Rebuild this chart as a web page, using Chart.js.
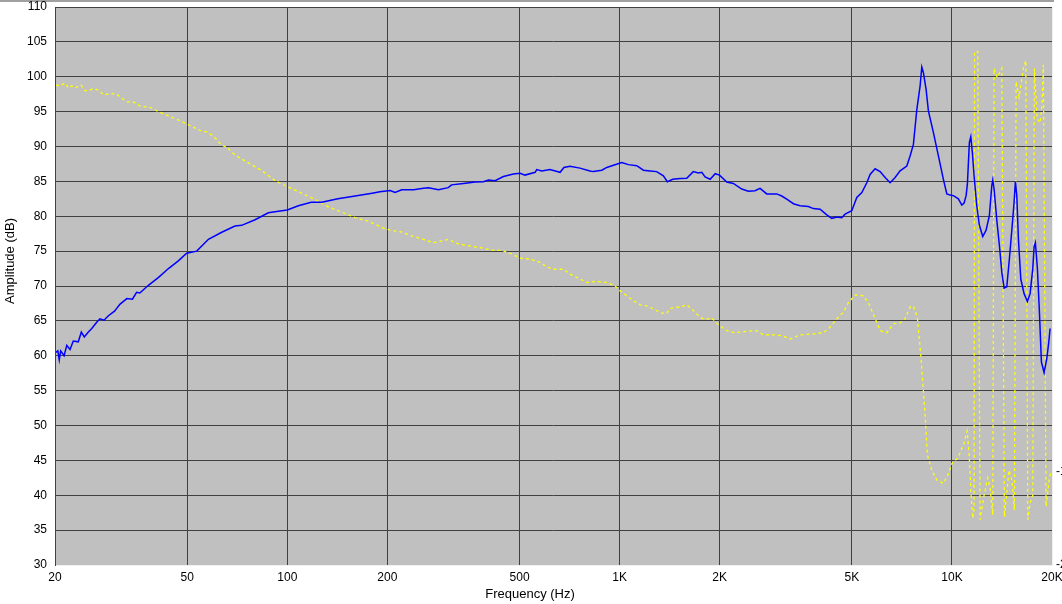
<!DOCTYPE html>
<html>
<head>
<meta charset="utf-8">
<script src="https://cdn.jsdelivr.net/npm/chart.js@4.4.1/dist/chart.umd.min.js"></script>
<style>
  body { margin: 0; background: #fff; }
  canvas { display: block; }
</style>
</head>
<body>
<canvas id="frChart" width="1062" height="604"></canvas>
<script>
const xTickValues = [20, 50, 100, 200, 500, 1000, 2000, 5000, 10000, 20000];
const xTickLabels = ['20', '50', '100', '200', '500', '1K', '2K', '5K', '10K', '20K'];

// blue trace (frequency in Hz, amplitude in dB)
const blueFreq = [20, 20.4, 20.6, 20.8, 21.3, 21.7, 22.2, 22.7, 23.5, 24.0, 24.5, 25.2, 25.8, 26.7, 27.3, 28.1, 28.9, 30.2, 31.4, 32.9,
  34.2, 35.2, 36.0, 38.2, 40.9, 43.9, 47.0, 49.8, 53.4, 57.9, 63.5, 69.6, 72.9, 80, 87.7, 94, 100, 108, 118, 127,
  142, 160, 180, 190, 204, 211, 221, 240, 257, 266, 285, 305, 312, 339, 367, 389, 403, 422, 447, 479,
  502, 519, 557, 563, 583, 617, 662, 680, 709, 760, 814, 833, 884, 915, 958, 1015, 1062, 1126, 1179, 1235,
  1293, 1354, 1392, 1445, 1520, 1592, 1666, 1726, 1767, 1808, 1872, 1940, 1998, 2101, 2199, 2331, 2440, 2555, 2646, 2772,
  2970, 3075, 3184, 3334, 3491, 3698, 3829, 4011, 4201, 4348, 4503, 4661, 4769, 4995, 5172, 5355, 5543, 5671, 5871, 6078,
  6294, 6515, 6744, 6982, 7313, 7482, 7656, 7839, 8020, 8115, 8205, 8359, 8494, 8794, 9104, 9424, 9650, 9871, 10100, 10455,
  10705, 10877, 11029, 11128, 11283, 11394, 11520, 11656, 11876, 12092, 12381, 12667, 12959, 13179, 13270, 13390, 13646, 13892, 14125, 14352,
  14622, 14887, 15138, 15381, 15520, 15671, 15845, 16111, 16482, 16866, 17183, 17507, 17665, 17824, 18076, 18328, 18584, 18934, 19292, 19561,
  19737];
const blueDb = [60.4, 60.7, 59.4, 60.7, 60.0, 61.5, 60.9, 62.1, 62.0, 63.4, 62.7, 63.4, 63.9, 64.8, 65.3, 65.1, 65.7, 66.4, 67.4, 68.2,
  68.1, 69.1, 69.0, 70.1, 71.2, 72.5, 73.6, 74.7, 75.0, 76.7, 77.7, 78.6, 78.7, 79.5, 80.5, 80.7, 80.9, 81.5, 82.0, 82.0,
  82.5, 82.9, 83.3, 83.5, 83.7, 83.4, 83.8, 83.8, 84.0, 84.1, 83.8, 84.1, 84.5, 84.7, 84.9, 84.95, 85.2, 85.1, 85.7, 86.05,
  86.15, 85.9, 86.3, 86.7, 86.5, 86.7, 86.3, 87.0, 87.15, 86.9, 86.5, 86.4, 86.6, 87.0, 87.3, 87.7, 87.4, 87.25, 86.6, 86.5,
  86.4, 85.8, 84.95, 85.3, 85.4, 85.46, 86.4, 86.2, 86.3, 85.65, 85.3, 86.1, 85.9, 84.9, 84.7, 83.9, 83.6, 83.65, 84.0, 83.2,
  83.2, 82.9, 82.45, 81.8, 81.5, 81.4, 81.1, 81.0, 80.2, 79.7, 79.9, 79.8, 80.3, 80.8, 82.7, 83.4, 84.8, 86.0, 86.8, 86.4,
  85.55, 84.8, 85.55, 86.5, 87.2, 88.65, 90.3, 95.3, 98.7, 101.4, 100.6, 98.2, 95.1, 92.0, 88.65, 85.3, 83.2, 83.05, 82.95, 82.5,
  81.6, 81.9, 82.95, 84.6, 90.6, 91.4, 89.1, 85.8, 81.5, 78.7, 77.1, 78.0, 80.1, 84.4, 85.2, 83.9, 79.4, 75.8, 72.0, 69.7,
  69.9, 73.9, 78.0, 82.0, 85.0, 82.95, 76.8, 71.0, 68.9, 67.8, 68.9, 72.5, 75.6, 76.2, 72.5, 66.3, 59.1, 57.6, 59.6, 62.0,
  63.9];

// yellow dashed trace
const yellowFreq = [20.14, 20.71, 21.43, 21.93, 22.45, 22.97, 23.95, 24.62, 25.19, 26.08, 27.0, 28.09, 29.28, 30.67, 32.87, 34.4, 36.05, 38.63, 41.4, 44.37,
  47.56, 50.96, 54.63, 57.21, 59.89, 63.5, 65.73, 68.81, 71.73, 83.75, 91.86, 100.7, 110.5, 121.2, 132.9, 145.8, 159.9, 175.4, 194.5, 208.5,
  218.4, 236.8, 256.7, 275.1, 294.8, 305.2, 323.6, 346.7, 380.2, 417, 441.9, 473.5, 501.6, 537.6, 576.1, 603.5, 631.8, 677, 709.1, 759.9,
  796.1, 853.4, 914.9, 969, 1003, 1051, 1100, 1152, 1207, 1278, 1339, 1386, 1418, 1486, 1520, 1592, 1666, 1746, 1808, 1894,
  1998, 2101, 2225, 2413, 2586, 2707, 2970, 3109, 3258, 3491, 3829, 4104, 4298, 4503, 4712, 4880, 5110, 5414, 5605, 5871,
  6078, 6366, 6663, 6982, 7225, 7482, 7656, 7870, 8058, 8171, 8302, 8434, 8697, 9002, 9424, 9759, 10010, 10435, 10877, 11105,
  11260, 11418, 11555, 11656, 11697, 11958, 12150, 12493, 12816, 13023, 13269, 13390, 13673, 14125, 14382, 14855, 15168, 15414, 15596, 15922,
  16406, 16681, 16913, 17183, 17507, 17703, 18036, 18415, 18670, 18838, 19193, 19642, 19947];
const yellowDb = [98.8, 98.7, 99.1, 98.4, 98.7, 98.4, 98.8, 98.0, 98.0, 98.3, 98.1, 97.4, 97.6, 97.5, 96.4, 96.4, 95.8, 95.6, 94.9, 94.3,
  93.7, 93.0, 92.3, 92.1, 91.5, 90.2, 89.9, 89.0, 88.4, 86.55, 85.1, 84.2, 83.3, 82.4, 81.35, 80.6, 79.8, 79.3, 78.3, 77.9,
  77.8, 77.2, 76.7, 76.2, 76.5, 76.7, 76.1, 75.8, 75.5, 75.1, 75.1, 74.6, 74.0, 73.85, 73.4, 72.75, 72.4, 72.4, 71.7, 71.0,
  70.5, 70.65, 70.5, 70.0, 69.3, 68.6, 67.9, 67.3, 67.15, 66.6, 66.1, 66.1, 66.8, 66.95, 66.95, 67.3, 66.5, 65.5, 65.2, 65.4,
  64.3, 63.6, 63.3, 63.5, 63.6, 63.0, 63.0, 62.8, 62.4, 63.0, 63.15, 63.3, 64.1, 65.3, 66.25, 67.6, 68.7, 68.6, 67.6, 65.4,
  63.6, 63.3, 64.6, 64.7, 65.3, 67.0, 67.1, 65.5, 60.05, 56.2, 51.5, 45.75, 43.6, 42.2, 41.7, 43.1, 44.6, 45.4, 47.5, 49.2,
  46.0, 40.0, 36.7, 38.0, 103.6, 103.6, 36.5, 40.0, 42.5, 41.0, 37.2, 101.2, 99.9, 101.2, 36.9, 43.6, 42.0, 37.9, 99.3, 97.1,
  101.2, 102.3, 36.5, 38.9, 40.0, 101.2, 94.0, 93.4, 96.0, 101.7, 38.4, 42.5, 43.5];

const toPoints = (freqs, dbs) => freqs.map((f, i) => ({ x: f, y: dbs[i] }));

const fontFamily = '"Liberation Sans", Arial, sans-serif';
Chart.defaults.font.family = fontFamily;
Chart.defaults.font.size = 12;
Chart.defaults.color = '#000';

const framePlugin = {
    id: 'frame',
    beforeDraw(chart) {
        const { ctx, chartArea: a } = chart;
        ctx.save();
        ctx.fillStyle = '#a0a0a0';
        ctx.fillRect(0, 0, 1054, 2);
        ctx.fillStyle = '#c0c0c0';
        ctx.fillRect(a.left, a.top, a.right - a.left, a.bottom - a.top);
        ctx.restore();
    },
    afterDraw(chart) {
        const { ctx, chartArea: a } = chart;
        ctx.save();
        ctx.lineWidth = 1;
        ctx.strokeStyle = '#f0f0f0';
        ctx.beginPath();
        ctx.moveTo(a.left, a.bottom + 0.5);
        ctx.lineTo(a.right + 1, a.bottom + 0.5);
        ctx.moveTo(a.right + 0.5, a.top);
        ctx.lineTo(a.right + 0.5, a.bottom + 1);
        ctx.stroke();
        ctx.strokeStyle = '#404040';
        ctx.beginPath();
        ctx.moveTo(a.left + 0.5, a.top);
        ctx.lineTo(a.left + 0.5, a.bottom + 1);
        ctx.moveTo(a.left, a.top + 0.5);
        ctx.lineTo(a.right, a.top + 0.5);
        ctx.stroke();

        ctx.fillStyle = '#000';
        ctx.font = '13px ' + fontFamily;
        ctx.textAlign = 'center';
        ctx.textBaseline = 'middle';
        ctx.fillText('Frequency (Hz)', 530, 594);
        ctx.save();
        ctx.translate(10, 261);
        ctx.rotate(-Math.PI / 2);
        ctx.fillText('Amplitude (dB)', 0, 0);
        ctx.restore();

        // right axis labels, cut off by the window edge
        ctx.font = '12px ' + fontFamily;
        ctx.textAlign = 'left';
        ctx.fillText('-1', 1056, 472);
        ctx.fillText('-2', 1056, 565);
        ctx.restore();
    }
};

new Chart(document.getElementById('frChart'), {
    type: 'line',
    data: {
        datasets: [
            {
                data: toPoints(blueFreq, blueDb),
                borderColor: '#0000ff',
                borderWidth: 1.5,
                pointRadius: 0,
                tension: 0
            },
            {
                data: toPoints(yellowFreq, yellowDb),
                borderColor: '#ffff00',
                borderWidth: 1.3,
                borderDash: [3, 3],
                pointRadius: 0,
                tension: 0
            }
        ]
    },
    options: {
        responsive: false,
        animation: false,
        layout: { padding: { top: 7, right: 10, left: 0, bottom: 0 } },
        plugins: {
            legend: { display: false },
            tooltip: { enabled: false }
        },
        scales: {
            x: {
                type: 'logarithmic',
                min: 20,
                max: 20000,
                afterBuildTicks: s => { s.ticks = xTickValues.map(v => ({ value: v })); },
                afterFit: s => { s.height = 39; s.paddingLeft = 0; s.paddingRight = 0; },
                grid: { color: '#404040', drawTicks: false },
                border: { display: false },
                ticks: {
                    padding: 5,
                    autoSkip: false,
                    maxRotation: 0,
                    callback: v => xTickLabels[xTickValues.indexOf(v)]
                }
            },
            y: {
                min: 30,
                max: 110,
                afterFit: s => { s.width = 55; s.paddingTop = 0; s.paddingBottom = 0; },
                grid: { color: '#404040', drawTicks: false },
                border: { display: false },
                ticks: { stepSize: 5, padding: 8 }
            }
        }
    },
    plugins: [framePlugin]
});
</script>
</body>
</html>
